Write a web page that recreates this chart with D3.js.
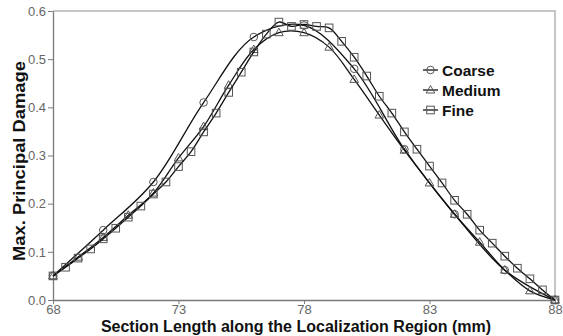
<!DOCTYPE html>
<html>
<head>
<meta charset="utf-8">
<script src="https://cdn.jsdelivr.net/npm/d3@7"></script>
<style>
  body { margin: 0; background: #fff; }
  svg { display: block; font-family: "Liberation Sans", Arial, sans-serif; }
</style>
</head>
<body>
<svg width="563" height="336"></svg>
<script>
// section length positions (mm)
const coarseX = [68, 70, 72, 74, 76, 78, 80, 82, 84, 86, 88];
const coarseY = [0.050, 0.145, 0.245, 0.410, 0.546, 0.570, 0.480, 0.313, 0.178, 0.062, 0.000];

const mediumX = [68, 69, 70, 71, 72, 73, 74, 75, 76, 77, 78, 79, 80, 81, 82, 83, 84, 85, 86, 87, 88];
const mediumY = [0.050, 0.089, 0.130, 0.176, 0.222, 0.295, 0.360, 0.446, 0.520, 0.555, 0.555, 0.525,
                 0.458, 0.384, 0.311, 0.243, 0.178, 0.120, 0.062, 0.019, 0.000];

const fineX = d3.range(68, 88.01, 0.5);
const fineY = [0.050, 0.068, 0.087, 0.106, 0.127, 0.149, 0.172, 0.195, 0.220, 0.245,
               0.277, 0.308, 0.349, 0.388, 0.431, 0.473, 0.515, 0.552, 0.577, 0.568,
               0.572, 0.568, 0.565, 0.537, 0.504, 0.465, 0.423, 0.388, 0.349, 0.313,
               0.278, 0.243, 0.207, 0.178, 0.145, 0.118, 0.091, 0.066, 0.044, 0.021, 0.000];

const xTicks = [68, 73, 78, 83, 88];
const yTicks = [0, 0.1, 0.2, 0.3, 0.4, 0.5, 0.6];

const series = [
  {name: "Coarse", xs: coarseX, ys: coarseY, marker: "circle"},
  {name: "Medium", xs: mediumX, ys: mediumY, marker: "triangle"},
  {name: "Fine", xs: fineX, ys: fineY, marker: "square"}
];

const svg = d3.select("svg");
const x = d3.scaleLinear().domain([68, 88]).range([53, 555]);
const y = d3.scaleLinear().domain([0, 0.6]).range([300, 11]);

// frame: top/right lighter
svg.append("path")
  .attr("d", `M${x(68)},${y(0.6)}H${x(88)}V${y(0)}`)
  .attr("fill", "none").attr("stroke", "#b4b4b4").attr("stroke-width", 1.5);

const xAxis = svg.append("g").attr("transform", `translate(0,${y(0)})`)
  .call(d3.axisBottom(x).tickValues(xTicks).tickSize(4).tickSizeOuter(0).tickPadding(1));
const yAxis = svg.append("g").attr("transform", `translate(${x(68)},0)`)
  .call(d3.axisLeft(y).tickValues(yTicks).tickFormat(d3.format(".1f")).tickSize(5).tickSizeOuter(0).tickPadding(2));

[xAxis, yAxis].forEach(a => {
  a.select(".domain").attr("stroke", "#7a7a7a").attr("stroke-width", 1.3);
  a.selectAll(".tick line").attr("stroke", "#7a7a7a");
  a.selectAll(".tick text").attr("fill", "#666").style("font-size", "13px")
    .style("font-family", "Liberation Sans, Arial, sans-serif");
});

const line = d3.line().x(d => x(d[0])).y(d => y(d[1])).curve(d3.curveCatmullRom.alpha(0.5));

function drawMarker(g, type, cx, cy) {
  const s = "#555";
  if (type === "circle") {
    g.append("circle").attr("cx", cx).attr("cy", cy).attr("r", 3.8)
      .attr("fill", "none").attr("stroke", s).attr("stroke-width", 1);
  } else if (type === "square") {
    g.append("rect").attr("x", cx - 3.8).attr("y", cy - 3.8).attr("width", 7.6).attr("height", 7.6)
      .attr("fill", "none").attr("stroke", s).attr("stroke-width", 1);
  } else {
    g.append("path").attr("d", `M${cx},${cy - 4.5}L${cx + 4.3},${cy + 3}L${cx - 4.3},${cy + 3}Z`)
      .attr("fill", "none").attr("stroke", s).attr("stroke-width", 1);
  }
}

series.forEach(sr => {
  const pts = sr.xs.map((v, i) => [v, sr.ys[i]]);
  const g = svg.append("g");
  g.append("path").datum(pts).attr("d", line)
    .attr("fill", "none").attr("stroke", "#111").attr("stroke-width", 1.3);
  pts.forEach(p => drawMarker(g, sr.marker, x(p[0]), y(p[1])));
});

// legend
const legend = svg.append("g");
series.forEach((sr, i) => {
  const ly = 70 + i * 20;
  legend.append("line").attr("x1", 423).attr("x2", 438).attr("y1", ly).attr("y2", ly)
    .attr("stroke", "#111").attr("stroke-width", 1.3);
  drawMarker(legend, sr.marker, 430.5, ly);
  legend.append("text").attr("x", 442).attr("y", ly + 5.5)
    .style("font-size", "15.5px").style("font-weight", "bold").attr("fill", "#111")
    .text(sr.name);
});

// axis titles
svg.append("text").attr("x", 296).attr("y", 332).attr("text-anchor", "middle")
  .style("font-size", "16px").style("font-weight", "bold").attr("fill", "#111")
  .text("Section Length along the Localization Region (mm)");
svg.append("text").attr("transform", "translate(25,161) rotate(-90)").attr("text-anchor", "middle")
  .attr("textLength", 200).attr("lengthAdjust", "spacingAndGlyphs")
  .style("font-size", "16px").style("font-weight", "bold").attr("fill", "#111")
  .text("Max. Principal Damage");
</script>
</body>
</html>
